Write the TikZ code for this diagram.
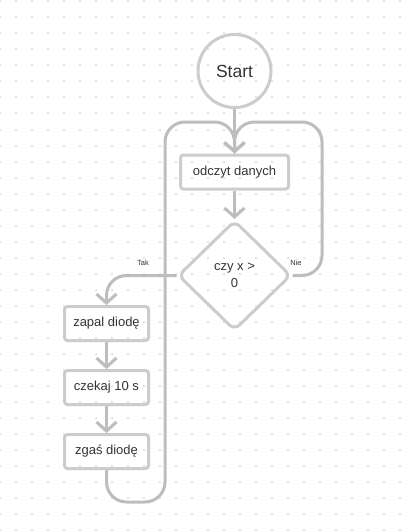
\documentclass[tikz,border=0pt]{standalone}
\usepackage{fontspec}
\setmainfont{Liberation Sans}
\usetikzlibrary{shapes.geometric,arrows.meta}
\definecolor{linegray}{RGB}{189,189,189}
\definecolor{boxgray}{RGB}{204,204,204}
\definecolor{dotgray}{RGB}{226,226,226}
\definecolor{textgray}{RGB}{51,51,51}

\begin{document}
\begin{tikzpicture}[x=1pt,y=-1pt,
	krok/.style={draw=boxgray, line width=3pt, rounded corners=3pt, minimum width=84pt, minimum height=34pt, inner sep=0pt, text=textgray, font=\fontsize{13}{15}\selectfont},
	warunek/.style={diamond, draw=boxgray, line width=3pt, rounded corners=7pt, minimum width=113pt, minimum height=110pt, inner sep=0pt, align=center, text=textgray, font=\fontsize{13}{17}\selectfont},
	poczatek/.style={circle, draw=boxgray, line width=3pt, minimum size=73pt, inner sep=0pt, text=textgray, font=\fontsize{17.5}{20}\selectfont},
	strzalka/.style={draw=linegray, line width=3pt, rounded corners=20pt, -{Straight Barb[length=9pt,width=20pt]}},
	etykieta/.style={text=textgray, font=\fontsize{7.5}{9}\selectfont, inner sep=0pt}]
					
					% tlo w kropki
					\fill[white] (0,0) rectangle (401,532);
					\useasboundingbox (0,0) rectangle (401,532);
					\foreach \i in {0,...,25}
						\foreach \j in {0,...,33}
							\fill[dotgray] (16*\i-1,16*\j+0.5) rectangle ++(2,2);
					
					\node[poczatek] (start) at (234.5,71) {Start};
					\node[krok, minimum width=108pt] (odczyt) at (234.5,172) {odczyt danych};
					\node[warunek] (czy) at (234.5,275.5) {czy x >\\0};
					
					\node[krok] (zapal) at (106.5,323.5) {zapal diodę};
					\node[krok] (czekaj) at (106.5,387.5) {czekaj 10 s};
					\node[krok] (zgas) at (106.5,451.5) {zgaś diodę};
					
					\coordinate (gora) at (165,122);
					\coordinate (dol) at (165,502);
					\coordinate (prawo) at (322,122);
					
					\draw[strzalka] (start) -- (odczyt);
					\draw[strzalka] (odczyt) -- (czy);
					
					% Tak
					\draw[strzalka] (czy.west) -- (zapal.north |- czy.west) -- (zapal.north);
					\draw[strzalka] (zapal) -- (czekaj);
					\draw[strzalka] (czekaj) -- (zgas);
					
					% powrot po lewej
					\draw[strzalka] (zgas.south) -- (zgas.south |- dol) -- (dol) -- (gora) -- (odczyt.north |- gora) -- (odczyt.north);
					
					% Nie
					\draw[strzalka] (czy.east) -- (prawo |- czy.east) -- (prawo) -- (odczyt.north |- prawo) -- (odczyt.north);
					
					\node[etykieta] (tak) at (143,263) {Tak};
					\node[etykieta] (nie) at (296,263) {Nie};
				\end{tikzpicture}
\end{document}
